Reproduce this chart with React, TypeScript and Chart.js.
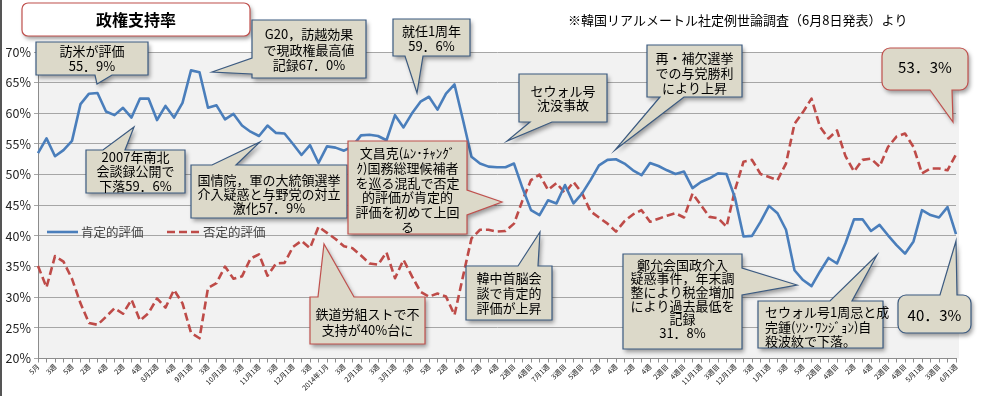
import React, { useEffect, useRef } from 'react';
import { Chart, registerables } from 'chart.js';

Chart.register(...registerables);

const FONT = '"Noto Sans CJK JP", "Noto Sans", sans-serif';

const tickLabels = [
  '5月', '3週', '5週', '2週', '4週', '2週', '4週', '8月2週', '4週', '9月1週', '3週', '10月1週', '3週', '11月1週', '3週', '12月1週', '3週',
  '2014年1月', '3週', '2月1週', '3週', '3月1週', '3週', '5週', '2週', '4週', '2週', '4週', '2週目', '4週目', '7月1週', '3週目', '5週目',
  '2週', '4週', '2週', '4週', '2週目', '4週目', '11月1週', '3週目', '12月1週', '3週',
  '1月1週', '3週', '5週', '2週目', '4週目', '2週', '4週', '2週目', '4週目', '5月1週', '3週目', '6月1週',
];

const seriesNames = ['肯定的評価', '否定的評価'];

const approval = [
  53.5, 55.9, 53.0, 54.0, 55.5, 61.5, 63.2, 63.3, 60.3, 59.7,
  60.9, 59.3, 62.4, 62.4, 58.9, 61.2, 59.3, 61.7, 67.0, 66.7,
  60.9, 61.3, 59.0, 59.9, 58.0, 57.0, 56.3, 58.0, 56.8, 56.7,
  55.0, 53.2, 54.8, 51.9, 54.6, 54.4, 53.9, 54.6, 56.4, 56.5,
  56.3, 55.6, 59.7, 57.7, 60.0, 61.9, 62.7, 60.6, 63.2, 64.7,
  58.9, 52.9, 51.8, 51.3, 51.2, 51.2, 51.8, 47.8, 44.2, 43.4,
  45.8, 45.3, 48.3, 45.3, 46.9, 49.1, 51.5, 52.4, 52.5, 51.8,
  50.7, 49.9, 51.9, 51.4, 50.7, 50.1, 50.5, 47.8, 48.8, 49.4,
  50.2, 50.1, 46.2, 39.9, 40.0, 42.3, 44.9, 43.7, 41.0, 34.4,
  32.8, 31.8, 34.2, 36.4, 35.5, 38.8, 42.7, 42.7, 40.8, 41.8,
  40.1, 38.5, 37.1, 39.1, 44.2, 43.4, 43.0, 44.7, 40.3,
];

const disapproval = [
  35.1, 31.6, 36.7, 35.8, 33.0, 29.0, 25.8, 25.5, 26.8, 28.2,
  27.3, 29.6, 26.2, 27.4, 29.8, 28.3, 31.2, 29.0, 24.2, 23.3,
  31.5, 32.3, 35.0, 33.0, 33.4, 36.3, 37.0, 33.5, 35.5, 35.6,
  38.2, 39.2, 38.0, 41.5, 40.5, 39.5, 38.3, 38.0, 36.8, 35.5,
  35.3, 37.3, 33.1, 36.1, 33.4, 30.9, 30.1, 30.6, 30.1, 27.1,
  33.4, 39.6, 41.0, 41.0, 40.7, 40.8, 42.0, 45.8, 49.1, 50.0,
  47.5, 48.6, 47.0, 48.8, 47.0, 44.0, 43.0, 42.0, 40.7, 42.4,
  43.5, 44.2, 42.3, 42.8, 43.3, 43.7, 43.0, 46.9, 45.0, 43.1,
  42.9, 41.5, 47.5, 52.1, 52.4, 50.1, 49.6, 49.1, 51.8, 58.3,
  60.2, 62.4, 57.8, 55.9, 57.2, 53.0, 50.5, 52.4, 52.6, 51.3,
  54.5, 56.2, 56.7, 54.5, 50.2, 51.0, 51.0, 50.7, 53.3,
];

const categories = approval.map((_, i) => (i % 2 === 0 ? tickLabels[i / 2] ?? '' : ''));

const BLUE = '#4A7EBB';
const RED = '#BE4B48';
const BOX_FILL = '#DCD9C9';
const BOX_BLUE = '#3B5A80';
const BOX_RED = '#C0504D';

type Callout = {
  x: number; y: number; w: number; h: number; r?: number;
  lines: string[]; size?: number; bold?: boolean; lh?: number; ty?: number;
  align?: 'center' | 'left'; tx?: number;
  border: string; fill?: string;
  side?: 'top' | 'bottom' | 'left' | 'right'; b?: [number, number]; tip?: [number, number];
};

const callouts: Callout[] = [
  { x: 22, y: 3, w: 228, h: 33, r: 6, lines: ['政権支持率'], size: 16, bold: true, border: BOX_RED, fill: '#FFFFFF' },
  { x: 36, y: 42, w: 112, h: 33, lines: ['訪米が評価', '55．9%'], lh: 15, border: BOX_BLUE, side: 'bottom', b: [95, 112], tip: [97, 84] },
  { x: 86, y: 150, w: 99, h: 43, lines: ['2007年南北', '会談録公開で', '下落59．6%'], lh: 14.5, border: BOX_BLUE, side: 'top', b: [103, 125], tip: [134, 127] },
  { x: 252, y: 20, w: 114, h: 58, lines: ['G20，訪越効果', 'で現政権最高値', '記録67．0%'], lh: 15.5, ty: 50, border: BOX_BLUE, side: 'left', b: [58, 74], tip: [212, 72] },
  { x: 191, y: 165, w: 156, h: 53, lines: ['国情院，軍の大統領選挙', '介入疑惑と与野党の対立', '激化57．9%'], lh: 14, ty: 194, border: BOX_BLUE, side: 'top', b: [212, 236], tip: [260, 142] },
  { x: 348, y: 141, w: 119, h: 93, lines: ['文昌克(ﾑﾝ･ﾁｬﾝｸﾞ', 'ｸ)国務総理候補者', 'を巡る混乱で否定', '的評価が肯定的', '評価を初めて上回', 'る'], lh: 14.7, ty: 190, border: BOX_RED, side: 'right', b: [190, 215], tip: [502, 202] },
  { x: 310, y: 297, w: 115, h: 47, lines: ['鉄道労組ストで不', '支持が40%台に'], lh: 15.5, ty: 322, border: BOX_RED, side: 'top', b: [318, 354], tip: [324, 244] },
  { x: 393, y: 19, w: 77, h: 37, lines: ['就任1周年', '59．6%'], lh: 15, ty: 39, border: BOX_BLUE, side: 'bottom', b: [405, 423], tip: [417, 93] },
  { x: 519, y: 74, w: 88, h: 48, lines: ['セウォル号', '沈没事故'], lh: 14.5, border: BOX_BLUE, side: 'bottom', b: [530, 552], tip: [507, 141] },
  { x: 647, y: 45, w: 95, h: 52, lines: ['再・補欠選挙', 'での与党勝利', 'により上昇'], lh: 15, ty: 73, border: BOX_BLUE, side: 'bottom', b: [660, 684], tip: [615, 150] },
  { x: 882, y: 48, w: 86, h: 42, r: 8, lines: ['53．3%'], size: 15, ty: 67, border: BOX_RED, side: 'bottom', b: [930, 952], tip: [953, 122] },
  { x: 466, y: 266, w: 86, h: 54, lines: ['韓中首脳会', '談で肯定的', '評価が上昇'], lh: 15, border: BOX_BLUE, side: 'top', b: [518, 538], tip: [540, 232] },
  { x: 623, y: 254, w: 119, h: 95, lines: ['鄭允会国政介入', '疑惑事件，年末調', '整により税金増加', 'により過去最低を', '記録', '31．8%'], lh: 13.7, ty: 299, border: BOX_BLUE, side: 'right', b: [268, 295], tip: [797, 285] },
  { x: 758, y: 301, w: 125, h: 47, lines: ['セウォル号1周忌と成', '完鍾(ｿﾝ･ﾜﾝｼﾞｮﾝ)自', '殺波紋で下落。'], lh: 14.5, ty: 327, align: 'left', tx: 765, border: BOX_BLUE, side: 'top', b: [830, 852], tip: [877, 255] },
  { x: 898, y: 295, w: 73, h: 38, r: 8, lines: ['40．3%'], size: 15, ty: 315, border: BOX_BLUE, side: 'top', b: [940, 957], tip: [956, 241] },
];

function drawCallout(ctx: CanvasRenderingContext2D, c: Callout) {
  const { x, y, w, h } = c;
  const r = c.r ?? 0;
  const tip = c.tip;
  const b = c.b;
  ctx.save();
  ctx.beginPath();
  ctx.moveTo(x + r, y);
  if (c.side === 'top' && b && tip) { ctx.lineTo(b[0], y); ctx.lineTo(tip[0], tip[1]); ctx.lineTo(b[1], y); }
  ctx.arcTo(x + w, y, x + w, y + h, r);
  if (c.side === 'right' && b && tip) { ctx.lineTo(x + w, b[0]); ctx.lineTo(tip[0], tip[1]); ctx.lineTo(x + w, b[1]); }
  ctx.arcTo(x + w, y + h, x, y + h, r);
  if (c.side === 'bottom' && b && tip) { ctx.lineTo(b[1], y + h); ctx.lineTo(tip[0], tip[1]); ctx.lineTo(b[0], y + h); }
  ctx.arcTo(x, y + h, x, y, r);
  if (c.side === 'left' && b && tip) { ctx.lineTo(x, b[1]); ctx.lineTo(tip[0], tip[1]); ctx.lineTo(x, b[0]); }
  ctx.arcTo(x, y, x + w, y, r);
  ctx.closePath();
  ctx.shadowColor = 'rgba(0,0,0,0.38)';
  ctx.shadowBlur = 4;
  ctx.shadowOffsetX = 2;
  ctx.shadowOffsetY = 3;
  ctx.fillStyle = c.fill ?? BOX_FILL;
  ctx.fill();
  ctx.shadowColor = 'transparent';
  ctx.shadowBlur = 0;
  ctx.shadowOffsetX = 0;
  ctx.shadowOffsetY = 0;
  ctx.lineWidth = 1.2;
  ctx.strokeStyle = c.border;
  ctx.stroke();

  const size = c.size ?? 13;
  const lh = c.lh ?? 15;
  ctx.font = `${c.bold ? 'bold ' : ''}${size}px ${FONT}`;
  ctx.fillStyle = '#000';
  ctx.textBaseline = 'middle';
  const align = c.align ?? 'center';
  ctx.textAlign = align;
  const cx = align === 'center' ? x + w / 2 : (c.tx ?? x + 6);
  const cy = c.ty ?? y + h / 2;
  const n = c.lines.length;
  c.lines.forEach((line, i) => {
    ctx.fillText(line, cx, cy + (i - (n - 1) / 2) * lh);
  });
  ctx.restore();
}

const decorPlugin = {
  id: 'decor',
  beforeDraw(chart: any) {
    const ctx: CanvasRenderingContext2D = chart.ctx;
    const a = chart.chartArea;
    ctx.save();
    ctx.fillStyle = '#FFFFFF';
    ctx.fillRect(0, 0, chart.width, chart.height);
    ctx.fillStyle = '#F2F2F2';
    ctx.fillRect(a.left, a.top, a.right - a.left + 3, a.bottom - a.top);
    ctx.restore();
  },
  afterDraw(chart: any) {
    const ctx: CanvasRenderingContext2D = chart.ctx;
    ctx.save();
    ctx.strokeStyle = '#555';
    ctx.lineWidth = 2;
    ctx.beginPath();
    ctx.moveTo(1, 0);
    ctx.lineTo(1, chart.height);
    ctx.stroke();

    ctx.lineWidth = 2.6;
    ctx.strokeStyle = BLUE;
    ctx.beginPath();
    ctx.moveTo(47, 232);
    ctx.lineTo(78, 232);
    ctx.stroke();
    ctx.strokeStyle = RED;
    ctx.setLineDash([8, 4]);
    ctx.beginPath();
    ctx.moveTo(167, 232);
    ctx.lineTo(200, 232);
    ctx.stroke();
    ctx.setLineDash([]);
    ctx.font = `12.5px ${FONT}`;
    ctx.fillStyle = '#404040';
    ctx.textBaseline = 'middle';
    ctx.textAlign = 'left';
    ctx.fillText(seriesNames[0], 81, 232);
    ctx.fillText(seriesNames[1], 203, 232);

    ctx.font = `13px ${FONT}`;
    ctx.fillStyle = '#000';
    ctx.fillText('※韓国リアルメートル社定例世論調査（6月8日発表）より', 568, 20);
    ctx.restore();

    callouts.forEach((c) => drawCallout(ctx, c));
  },
};

export default function App() {
  const ref = useRef<HTMLCanvasElement | null>(null);
  useEffect(() => {
    if (!ref.current) return;
    const chart = new Chart(ref.current, {
      type: 'line',
      data: {
        labels: categories,
        datasets: [
          {
            label: seriesNames[0],
            data: approval,
            borderColor: BLUE,
            borderWidth: 2.6,
            pointRadius: 0,
            tension: 0,
            fill: false,
            borderJoinStyle: 'round',
          },
          {
            label: seriesNames[1],
            data: disapproval,
            borderColor: RED,
            borderWidth: 2.6,
            borderDash: [8, 4],
            pointRadius: 0,
            tension: 0,
            fill: false,
            borderJoinStyle: 'round',
          },
        ],
      },
      options: {
        animation: false,
        responsive: false,
        events: [],
        layout: { padding: { top: 52, right: 29, bottom: 0, left: 0 } },
        plugins: { legend: { display: false }, tooltip: { enabled: false } },
        scales: {
          x: {
            type: 'category',
            offset: false,
            afterFit: (s: any) => { s.height = 37.5; },
            grid: { drawOnChartArea: false, drawTicks: true, tickLength: 4, color: '#8C8C8C' },
            border: { display: true, color: '#8C8C8C' },
            ticks: {
              autoSkip: false,
              maxRotation: 45,
              minRotation: 45,
              padding: 0,
              color: '#111',
              font: { size: 7, family: FONT },
            },
          },
          y: {
            min: 20,
            max: 70,
            afterFit: (s: any) => { s.width = 38; },
            grid: { color: '#A6A6A6', tickLength: 4 },
            border: { display: true, color: '#8C8C8C' },
            ticks: {
              stepSize: 5,
              padding: 3,
              color: '#222',
              font: { size: 12.5, family: FONT },
              callback: (v: any) => `${v}%`,
            },
          },
        },
      },
      plugins: [decorPlugin],
    });
    return () => chart.destroy();
  }, []);
  return (
    <div style={{ position: 'absolute', left: 0, top: 0, width: 985, height: 396 }}>
      <canvas ref={ref} width={985} height={396} style={{ width: 985, height: 396, display: 'block' }} />
    </div>
  );
}
